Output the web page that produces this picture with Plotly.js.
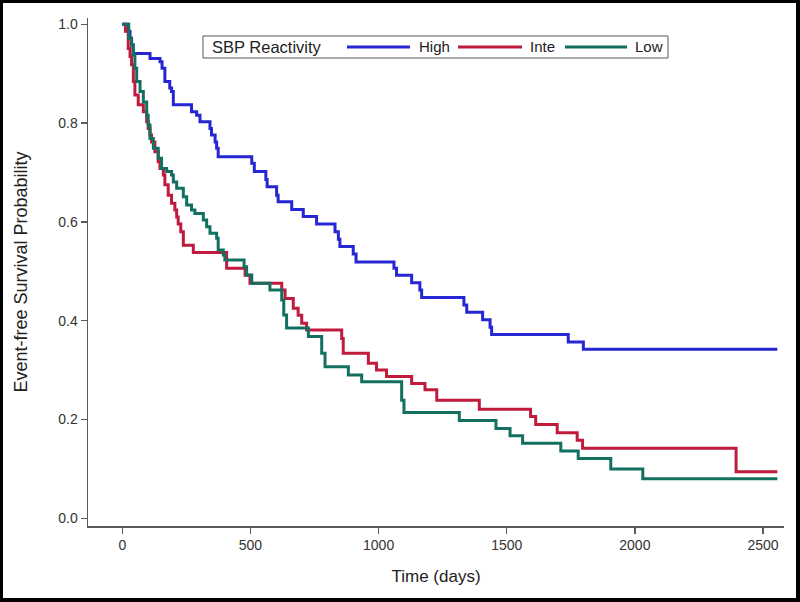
<!DOCTYPE html>
<html><head><meta charset="utf-8">
<script src="https://cdn.plot.ly/plotly-3.0.1.min.js"></script>
<style>
html,body{margin:0;padding:0;background:#fff}
#wrap{position:relative;width:800px;height:602px}
#chart{width:800px;height:602px}
#frame{position:absolute;left:0;top:0;width:800px;height:602px;box-sizing:border-box;border-style:solid;border-color:#000;border-width:3px 4px 4px 3px;pointer-events:none}
</style>
</head><body>
<div id="wrap"><div id="chart"></div><div id="frame"></div></div>
<script>
const groupNames = ['High', 'Inte', 'Low'];
const legendTitle = 'SBP Reactivity';

const highDays = [0, 22, 30, 36, 42, 108, 147, 155, 166, 185, 192, 199, 270, 290, 303, 342, 348, 362, 368, 374, 505, 515, 560, 565, 602, 608, 661, 706, 758, 830, 843, 849, 901, 912, 1060, 1070, 1129, 1161, 1168, 1333, 1344, 1406, 1435, 1441, 1740, 1799, 2556];
const highSurv = [1.0, 0.986, 0.972, 0.958, 0.941, 0.931, 0.924, 0.911, 0.884, 0.871, 0.864, 0.837, 0.823, 0.816, 0.803, 0.789, 0.776, 0.762, 0.749, 0.732, 0.719, 0.702, 0.686, 0.671, 0.654, 0.641, 0.625, 0.611, 0.596, 0.580, 0.565, 0.550, 0.535, 0.519, 0.506, 0.492, 0.477, 0.462, 0.447, 0.432, 0.417, 0.402, 0.387, 0.372, 0.357, 0.342, 0.342];

const inteDays = [0, 12, 23, 30, 36, 43, 49, 62, 82, 95, 101, 108, 114, 127, 140, 147, 160, 166, 179, 192, 205, 212, 218, 228, 238, 277, 407, 479, 498, 622, 635, 667, 686, 700, 719, 856, 862, 960, 992, 1031, 1129, 1181, 1227, 1393, 1593, 1613, 1697, 1775, 1796, 2395, 2556];
const inteSurv = [1.0, 0.986, 0.951, 0.935, 0.918, 0.884, 0.857, 0.837, 0.823, 0.803, 0.789, 0.776, 0.762, 0.742, 0.722, 0.708, 0.695, 0.675, 0.654, 0.638, 0.624, 0.610, 0.596, 0.580, 0.553, 0.538, 0.506, 0.492, 0.476, 0.462, 0.445, 0.425, 0.411, 0.395, 0.381, 0.364, 0.334, 0.314, 0.300, 0.287, 0.273, 0.260, 0.239, 0.221, 0.206, 0.190, 0.173, 0.158, 0.142, 0.094, 0.094];

const lowDays = [0, 25, 36, 43, 49, 56, 69, 82, 95, 101, 108, 121, 140, 153, 173, 192, 199, 212, 238, 251, 270, 283, 316, 329, 342, 368, 374, 394, 400, 475, 485, 505, 576, 622, 630, 641, 726, 778, 791, 882, 934, 1090, 1099, 1315, 1458, 1513, 1562, 1711, 1779, 1906, 2031, 2556];
const lowSurv = [1.0, 0.972, 0.958, 0.938, 0.911, 0.884, 0.864, 0.843, 0.816, 0.796, 0.769, 0.749, 0.729, 0.708, 0.702, 0.695, 0.681, 0.668, 0.651, 0.634, 0.624, 0.617, 0.604, 0.590, 0.577, 0.567, 0.543, 0.533, 0.523, 0.509, 0.4925, 0.476, 0.462, 0.442, 0.4115, 0.385, 0.368, 0.334, 0.307, 0.290, 0.2765, 0.239, 0.214, 0.198, 0.182, 0.167, 0.152, 0.136, 0.121, 0.100, 0.080, 0.080];

const xTicks = [0, 500, 1000, 1500, 2000, 2500];
const yTicks = [0.0, 0.2, 0.4, 0.6, 0.8, 1.0];

const colors = ['#2626d4', '#c01a3c', '#137060'];
const series = [[highDays, highSurv], [inteDays, inteSurv], [lowDays, lowSurv]];

const font = 'Liberation Sans, Arial, Helvetica, sans-serif';
const traces = series.map((s, i) => ({
  x: s[0], y: s[1], type: 'scatter', mode: 'lines', name: groupNames[i],
  line: {shape: 'hv', color: colors[i], width: 3},
  hoverinfo: 'skip', showlegend: false
}));

// legend drawn as a boxed key in paper coordinates
const legBox = {x0: 0.1652, x1: 0.8333, y0: 0.9213, y1: 0.9646};
const legY = (legBox.y0 + legBox.y1) / 2;
const legLines = [[0.3721, 0.4626], [0.5316, 0.6236], [0.6853, 0.7744]];
const legTextX = [0.4727, 0.6322, 0.7830];

const shapes = [{
  type: 'rect', xref: 'paper', yref: 'paper',
  x0: legBox.x0, x1: legBox.x1, y0: legBox.y0, y1: legBox.y1,
  line: {color: '#555', width: 1}, fillcolor: '#fff', layer: 'above'
}].concat(legLines.map((l, i) => ({
  type: 'line', xref: 'paper', yref: 'paper', x0: l[0], x1: l[1], y0: legY, y1: legY,
  line: {color: colors[i], width: 3}, layer: 'above'
})));

const annotations = [{
  xref: 'paper', yref: 'paper', x: 0.1753, y: legY, xanchor: 'left', yanchor: 'middle',
  text: legendTitle, showarrow: false, font: {family: font, size: 16.5, color: '#222'}
}].concat(groupNames.map((n, i) => ({
  xref: 'paper', yref: 'paper', x: legTextX[i], y: legY, xanchor: 'left', yanchor: 'middle',
  text: n, showarrow: false, font: {family: font, size: 15, color: '#222'}
})));

const axisCommon = {
  showline: true, linecolor: '#5a5a5a', linewidth: 1.5,
  ticks: 'outside', ticklen: 6, tickcolor: '#5a5a5a', tickwidth: 1.5,
  showgrid: false, zeroline: false,
  tickfont: {family: font, size: 14, color: '#333'}
};

const layout = {
  width: 800, height: 602,
  margin: {l: 88, r: 16, t: 18, b: 76},
  paper_bgcolor: '#fff', plot_bgcolor: '#fff',
  font: {family: font, color: '#222'},
  xaxis: Object.assign({}, axisCommon, {
    range: [-134, 2582], tickvals: xTicks, ticktext: xTicks.map(String),
    title: {text: 'Time (days)', font: {family: font, size: 17, color: '#222'}, standoff: 18}
  }),
  yaxis: Object.assign({}, axisCommon, {
    range: [-0.0156, 1.0128], tickvals: yTicks, ticktext: yTicks.map(v => v.toFixed(1)),
    title: {text: 'Event-free Survival Probability', font: {family: font, size: 18, color: '#222'}, standoff: 26}
  }),
  showlegend: false,
  shapes: shapes,
  annotations: annotations
};

Plotly.newPlot('chart', traces, layout, {staticPlot: true, displayModeBar: false});
</script>
</body></html>
